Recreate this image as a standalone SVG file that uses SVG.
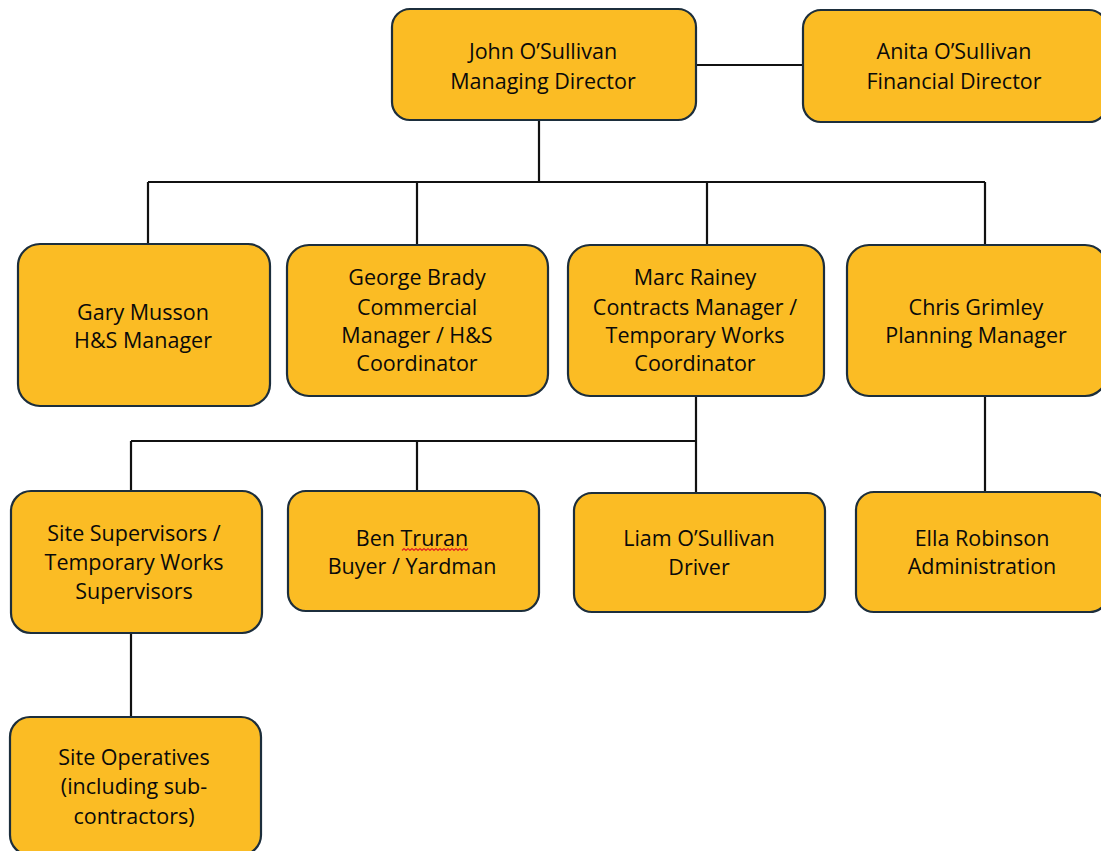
<svg xmlns="http://www.w3.org/2000/svg" width="1101" height="851" viewBox="0 0 1101 851">
<style>
.box{fill:#FBBC24;stroke:#1C2E3C;stroke-width:2.2}
.t{font-family:"Open Sans","Liberation Sans",sans-serif;font-size:21.5px;fill:#0a0a0a;text-anchor:middle}
.c{fill:none;stroke:#111;stroke-width:2.2}
</style>
<rect width="1101" height="851" fill="#fff"/>
<g id="connectors">
<path class="c" d="M696 65H803"/>
<path class="c" d="M539 120V182M148 182H985M148 182V244M417 182V245M707 182V245M985 182V245"/>
<path class="c" d="M696 396V441M131 441H696M131 441V491M417 441V491M696 441V493"/>
<path class="c" d="M985 396V492"/>
<path class="c" d="M131 633V717"/>
</g>
<g id="john"><rect class="box" x="392" y="9" width="304" height="111" rx="18"/>
<text class="t" x="543" y="59">John O’Sullivan</text><text class="t" x="543" y="89">Managing Director</text></g>
<g id="anita"><rect class="box" x="803" y="10" width="304" height="112" rx="18"/>
<text class="t" x="954" y="59">Anita O’Sullivan</text><text class="t" x="954" y="89">Financial Director</text></g>
<g id="gary"><rect class="box" x="18" y="244" width="252" height="162" rx="22"/>
<text class="t" x="143" y="320">Gary Musson</text><text class="t" x="143" y="348">H&amp;S Manager</text></g>
<g id="george"><rect class="box" x="287" y="245" width="261" height="151" rx="22"/>
<text class="t" x="417" y="285">George Brady</text><text class="t" x="417" y="315">Commercial</text><text class="t" x="417" y="343">Manager / H&amp;S</text><text class="t" x="417" y="371">Coordinator</text></g>
<g id="marc"><rect class="box" x="568" y="245" width="256" height="151" rx="22"/>
<text class="t" x="695" y="285">Marc Rainey</text><text class="t" x="695" y="315">Contracts Manager /</text><text class="t" x="695" y="343">Temporary Works</text><text class="t" x="695" y="371">Coordinator</text></g>
<g id="chris"><rect class="box" x="847" y="245" width="260" height="151" rx="22"/>
<text class="t" x="976" y="315">Chris Grimley</text><text class="t" x="976" y="343">Planning Manager</text></g>
<g id="site-supervisors"><rect class="box" x="11" y="491" width="251" height="142" rx="20"/>
<text class="t" x="134" y="541">Site Supervisors /</text><text class="t" x="134" y="570">Temporary Works</text><text class="t" x="134" y="599">Supervisors</text></g>
<g id="ben"><rect class="box" x="288" y="491" width="251" height="120" rx="18"/>
<text class="t" x="412" y="546">Ben Truran</text><text class="t" x="412" y="574">Buyer / Yardman</text>
<path d="M402 550.5l2-2 2 2 2-2 2 2 2-2 2 2 2-2 2 2 2-2 2 2 2-2 2 2 2-2 2 2 2-2 2 2 2-2 2 2 2-2 2 2 2-2 2 2 2-2 2 2 2-2 2 2 2-2 2 2 2-2 2 2 2-2 2 2 2-2" fill="none" stroke="#E02020" stroke-width="1.2"/></g>
<g id="liam"><rect class="box" x="574" y="493" width="251" height="119" rx="18"/>
<text class="t" x="699" y="546">Liam O’Sullivan</text><text class="t" x="699" y="575">Driver</text></g>
<g id="ella"><rect class="box" x="856" y="492" width="252" height="120" rx="18"/>
<text class="t" x="982" y="546">Ella Robinson</text><text class="t" x="982" y="574">Administration</text></g>
<g id="site-operatives"><rect class="box" x="10" y="717" width="251" height="138" rx="20"/>
<text class="t" x="134" y="765">Site Operatives</text><text class="t" x="134" y="794">(including sub-</text><text class="t" x="134" y="824">contractors)</text></g>
</svg>
